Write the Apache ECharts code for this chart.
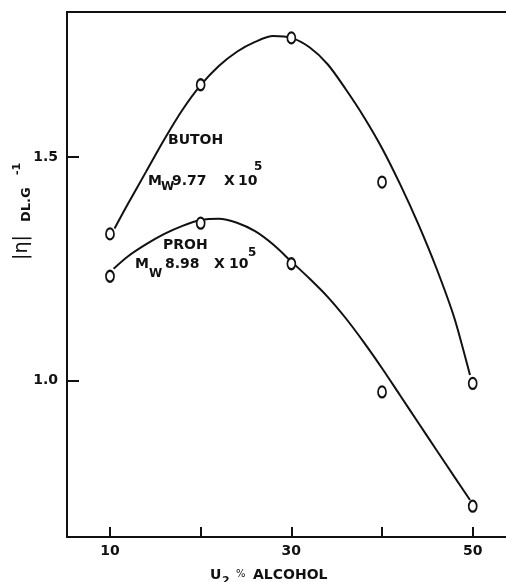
<!DOCTYPE html>
<html>
<head>
<meta charset="utf-8">
<script src="https://cdn.jsdelivr.net/npm/echarts@6/dist/echarts.min.js"></script>
<style>
html,body{margin:0;padding:0;background:#fff;}
#chart{width:506px;height:582px;}
</style>
</head>
<body>
<div id="chart"></div>
<script>
// Measured points (o markers)
const butohX = [10, 20, 30, 40, 50];
const butohY = [1.328, 1.662, 1.767, 1.444, 0.993];
const prohX = [10, 20, 30, 40, 50];
const prohY = [1.233, 1.352, 1.261, 0.974, 0.718];

// Hand-drawn fitted curves
const butohCurveX = [10.5, 12, 14, 16, 18, 20, 22, 24, 26, 28, 30, 32, 34, 36, 38, 40, 42, 44, 46, 48, 49.7];
const butohCurveY = [1.34, 1.396, 1.468, 1.54, 1.606, 1.661, 1.704, 1.736, 1.758, 1.771, 1.767, 1.746, 1.708, 1.652, 1.59, 1.52, 1.439, 1.35, 1.251, 1.138, 1.012];
const prohCurveX = [10.4, 12, 14, 16, 18, 20, 22, 24, 26, 28, 30, 32, 34, 36, 38, 40, 42, 44, 46, 48, 49.7];
const prohCurveY = [1.25, 1.278, 1.305, 1.328, 1.346, 1.359, 1.362, 1.353, 1.334, 1.304, 1.266, 1.228, 1.187, 1.139, 1.085, 1.027, 0.966, 0.905, 0.844, 0.783, 0.732];

// Ticks and labels
const xTickValues = [10, 20, 30, 40, 50];
const xLabelValues = [10, 30, 50];
const yTickValues = [1.0, 1.5];

const zip = (xs, ys) => xs.map((x, i) => [x, ys[i]]);

const INK = '#111';
const F = '"DejaVu Sans", "Liberation Sans", sans-serif';

function txt(x, y, text, size, weight, extra) {
  return Object.assign({
    type: 'text', x: x, y: y, silent: true,
    style: {
      text: text, fill: INK,
      font: (weight || 'bold') + ' ' + size + 'px ' + F,
      textAlign: 'left', textVerticalAlign: 'middle',
      align: 'left', verticalAlign: 'middle'
    }
  }, extra || {});
}

const chart = echarts.init(document.getElementById('chart'), null, {renderer: 'canvas'});

const axisLineStyle = {color: INK, width: 2};

const option = {
  backgroundColor: '#fff',
  animation: false,
  grid: {left: 67, right: 0, top: 12, bottom: 45},
  xAxis: [{
    type: 'value', min: 5.26, max: 53.67,
    axisLine: {show: true, lineStyle: axisLineStyle},
    splitLine: {show: false},
    axisTick: {show: true, inside: true, length: 10, customValues: xTickValues, lineStyle: {color: INK, width: 2}},
    axisLabel: {show: true, customValues: xLabelValues, margin: 7, color: INK,
      fontFamily: F, fontWeight: 'bold', fontSize: 14, formatter: v => String(v)}
  }, {
    type: 'value', position: 'top', min: 5.26, max: 53.67,
    axisLine: {show: true, lineStyle: axisLineStyle},
    splitLine: {show: false}, axisTick: {show: false}, axisLabel: {show: false}
  }],
  yAxis: {
    type: 'value', min: 0.649, max: 1.825,
    axisLine: {show: true, lineStyle: axisLineStyle},
    splitLine: {show: false},
    axisTick: {show: true, inside: true, length: 12, customValues: yTickValues, lineStyle: {color: INK, width: 2}},
    axisLabel: {show: true, customValues: yTickValues, margin: 9, color: INK,
      fontFamily: F, fontWeight: 'bold', fontSize: 14, formatter: v => v.toFixed(1)}
  },
  series: [
    {type: 'line', name: 'BUTOH curve', data: zip(butohCurveX, butohCurveY), smooth: 0.3,
      showSymbol: false, lineStyle: {color: INK, width: 2}, silent: true, z: 2},
    {type: 'line', name: 'PROH curve', data: zip(prohCurveX, prohCurveY), smooth: 0.3,
      showSymbol: false, lineStyle: {color: INK, width: 2}, silent: true, z: 2},
    {type: 'scatter', name: 'BUTOH', data: zip(butohX, butohY), symbol: 'circle', symbolSize: [8, 11],
      itemStyle: {color: '#fff', borderColor: INK, borderWidth: 2, opacity: 1}, z: 3},
    {type: 'scatter', name: 'PROH', data: zip(prohX, prohY), symbol: 'circle', symbolSize: [8, 11],
      itemStyle: {color: '#fff', borderColor: INK, borderWidth: 2, opacity: 1}, z: 3}
  ],
  graphic: [
    // BUTOH annotation
    txt(168, 140, 'BUTOH', 14),
    txt(148, 181, 'M', 14),
    txt(161, 187, 'W', 12),
    txt(172, 181, '9.77', 14),
    txt(224, 181, 'X', 14),
    txt(238, 181, '10', 14),
    txt(254, 167, '5', 12),
    // PROH annotation
    txt(163, 245, 'PROH', 14),
    txt(135, 264, 'M', 14),
    txt(149, 274, 'W', 12),
    txt(165, 264, '8.98', 14),
    txt(214, 264, 'X', 14),
    txt(229, 264, '10', 14),
    txt(248, 253, '5', 12),
    // x axis name
    txt(210, 575, 'U', 14),
    txt(222, 581, '2', 11),
    txt(236, 574, '%', 10, 'normal'),
    txt(253, 575, 'ALCOHOL', 14),
    // y axis name (rotated)
    {
      type: 'group', x: 24, y: 210, rotation: Math.PI / 2, silent: true,
      children: [
        txt(-50, -1.5, '|η|', 19, 'normal'),
        txt(-12, 3, 'DL.G', 13),
        txt(35, -6.5, '-1', 11)
      ]
    }
  ]
};
chart.setOption(option);
</script>
</body>
</html>
